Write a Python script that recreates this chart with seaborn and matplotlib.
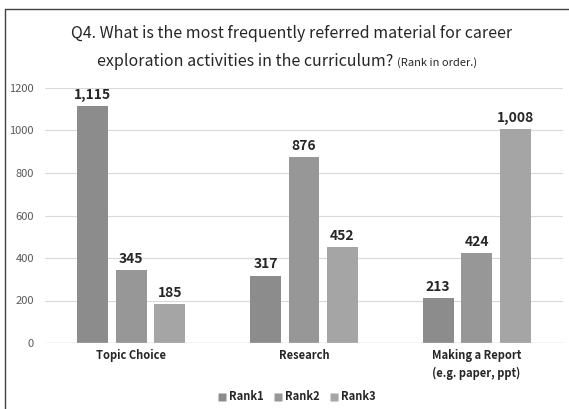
import matplotlib
matplotlib.use("Agg")
import matplotlib.pyplot as plt
import seaborn as sns
import pandas as pd
from matplotlib.lines import Line2D

categories = ["Topic Choice", "Research", "Making a Report\n(e.g. paper, ppt)"]
ranks = ["Rank1", "Rank2", "Rank3"]
rank1 = [1115, 317, 213]
rank2 = [345, 876, 424]
rank3 = [185, 452, 1008]
yticks = [0, 200, 400, 600, 800, 1000, 1200]

rows = []
for series_name, vals in zip(ranks, [rank1, rank2, rank3]):
    for c, v in zip(categories, vals):
        rows.append({"cat": c, "rank": series_name, "val": v})
df = pd.DataFrame(rows)

sns.set_theme(style="white")
plt.rcParams['font.family'] = ['Noto Sans CJK KR', 'DejaVu Sans']

colors = ["#8c8c8c", "#979797", "#a5a5a5"]

fig = plt.figure(figsize=(5.69, 4.09), dpi=100)
ax = fig.add_axes([45/569, 1-343/409, (563-45)/569, (343-88)/409])

sns.barplot(data=df, x="cat", y="val", hue="rank", palette=colors,
            width=0.67, gap=0.2, ax=ax, legend=False, saturation=1,
            edgecolor="none")

for cont in ax.containers:
    ax.bar_label(cont, labels=[f"{int(v):,}" for v in cont.datavalues],
                 padding=3, fontsize=10, fontweight="bold", color="#262626")

ax.set_ylim(0, 1200)
ax.set_yticks(yticks)
ax.set_yticklabels([str(t) for t in yticks], fontsize=8, color="#595959")
ax.yaxis.grid(True, color="#d9d9d9", linewidth=0.8)
ax.set_axisbelow(True)
for s in ["top", "right", "left", "bottom"]:
    ax.spines[s].set_visible(False)
ax.axhline(0, color="#d0d0d0", linewidth=1, zorder=1)
ax.tick_params(axis="y", length=0, pad=8)
ax.tick_params(axis="x", length=0, pad=4)
ax.set_xticks(range(len(categories)))
ax.set_xticklabels(categories, fontsize=8, fontweight="bold", color="#262626",
                   linespacing=1.5, va="top")
ax.set_xlabel("")
ax.set_ylabel("")

# Title
fig.text(292/569, 1-33/409, "Q4. What is the most frequently referred material for career",
         ha="center", va="center", fontsize=11.5, color="#262626")
fig.text(393/569, 1-62/409, "exploration activities in the curriculum?",
         ha="right", va="center", fontsize=11.5, color="#262626")
fig.text(397/569, 1-63/409, "(Rank in order.)",
         ha="left", va="center", fontsize=8, color="#262626")

# Legend
handles = [Line2D([0], [0], marker="s", linestyle="none", markersize=5.5,
                  markerfacecolor=c, markeredgecolor="none") for c in colors]
fig.legend(handles, ranks, loc="center", bbox_to_anchor=(296/569, 1-397/409),
           ncol=3, frameon=False, handletextpad=0.1, handlelength=1.0,
           columnspacing=0.8, prop={"weight": "bold", "size": 8})

# Frame (left and top lines)
fig.add_artist(Line2D([5/569, 5/569], [0, 1-9/409], transform=fig.transFigure,
                      color="#404040", linewidth=1))
fig.add_artist(Line2D([5/569, 1], [1-9/409, 1-9/409], transform=fig.transFigure,
                      color="#404040", linewidth=1))

fig.savefig("out.png", dpi=100, facecolor="white")
